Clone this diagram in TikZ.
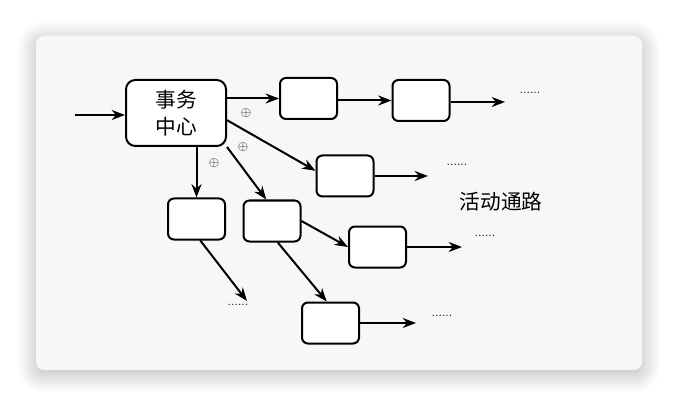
\documentclass[tikz,border=0pt]{standalone}
\usepackage{fontspec}
\newfontfamily\cjk{Noto Sans CJK SC}
\usetikzlibrary{arrows.meta,shadows.blur}

\begin{document}
\begin{tikzpicture}[
    x=0.75pt, y=-0.75pt,
    line width=1.5pt,
    >={Stealth[length=10pt,width=7.5pt]},
    box/.style={draw, rounded corners=4.5pt, fill=white, minimum width=42.75pt, minimum height=30.75pt, inner sep=0pt},
    dotlabel/.style={font=\small, inner sep=0pt},
    oplabel/.style={font=\normalsize, inner sep=0pt}
]

% Card colour
\definecolor{cardbg}{RGB}{247, 247, 247}

% Canvas and card
\useasboundingbox (0, 0) rectangle (678, 406);
\fill[cardbg, rounded corners=6pt, blur shadow={shadow xshift=0pt, shadow yshift=-3pt, shadow blur radius=14pt, shadow opacity=30, shadow blur steps=12}] (36, 36) rectangle (642, 370);

% Hub
\node[box, minimum width=75pt, minimum height=49.5pt, rounded corners=7pt, align=center, font=\cjk\fontsize{15.5}{20}\selectfont] (hub) at (176, 113) {事务\\中心};

% Boxes
\node[box] (t1) at (308.5, 98.5) {};
\node[box] (t2) at (421, 100.5) {};
\node[box] (m1) at (345, 176) {};
\node[box] (l1) at (196.5, 219) {};
\node[box] (d1) at (272, 221) {};
\node[box] (d2) at (377.5, 247) {};
\node[box] (d3) at (330.5, 323) {};

% Dots
\node[dotlabel] (t2dots) at (530, 93) {......};
\node[dotlabel] (m1dots) at (457, 165) {......};
\node[dotlabel] (d2dots) at (485, 236) {......};
\node[dotlabel] (d3dots) at (442, 316) {......};
\node[dotlabel] (l1dots) at (238, 305) {......};

% XOR marks
\node[oplabel] (op1) at (246, 113) {$\oplus$};
\node[oplabel] (op2) at (243, 147) {$\oplus$};
\node[oplabel] (op3) at (214, 163) {$\oplus$};

% Caption
\node[font=\cjk\fontsize{15.5}{20}\selectfont] (path) at (501, 202) {活动通路};

% Free ends
\coordinate (in) at (75, 115);
\coordinate (t2end) at (505, 102);
\coordinate (m1end) at (428, 176);
\coordinate (d2end) at (462, 247);
\coordinate (d3end) at (416, 323);
\coordinate (l1end) at (247, 301);

% Connectors
\draw[->] (in) -- (in -| hub.west);
\draw[->] (hub.east |- t1) -- (t1.west);
\draw[->] (t1.east |- t2) -- (t2.west);
\draw[->] (t2.east |- t2end) -- (t2end);
\draw[->] (hub.-8) -- (m1.170);
\draw[->] (m1.east) -- (m1end);
\draw[->] (hub.south -| l1.north) -- (l1.north);
\draw[->] (hub.south east) -- (d1.105);
\draw[->] (d1.east) -- (d2.west);
\draw[->] (d1.-75) -- (d3.100);
\draw[->] (d2.east) -- (d2end);
\draw[->] (d3.east) -- (d3end);
\draw[->] (l1.-80) -- (l1end);

\end{tikzpicture}
\end{document}
